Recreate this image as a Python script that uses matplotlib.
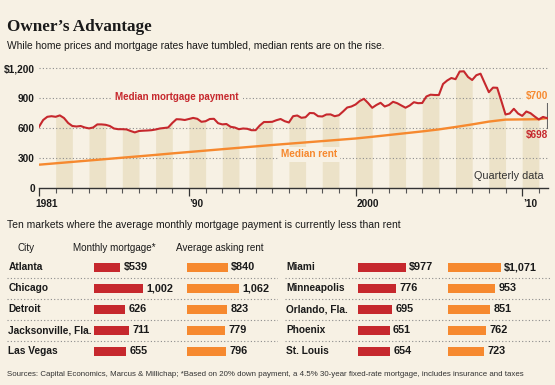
import numpy as np
import matplotlib
matplotlib.use("Agg")
import matplotlib.pyplot as plt

# quarterly median mortgage payment, 1981 Q1 - 2011 Q3
quarters = np.arange(1981, 2011.51, 0.25)
mortgage = [612, 680, 712, 718, 712, 726, 700, 650, 620, 615, 620, 605,
            596, 605, 636, 636, 632, 620, 595, 588, 588, 586, 570, 556,
            570, 573, 575, 578, 585, 595, 600, 605, 650, 688, 686, 680,
            690, 701, 692, 662, 668, 690, 692, 648, 636, 640, 612, 605,
            588, 595, 592, 578, 578, 625, 660, 660, 662, 678, 690, 668,
            655, 718, 725, 702, 708, 750, 748, 718, 715, 735, 736, 718,
            728, 765, 805, 815, 835, 870, 892, 850, 802, 830, 852, 815,
            830, 862, 848, 825, 803, 825, 858, 848, 850, 915, 933, 930,
            930, 1040, 1075, 1100, 1088, 1165, 1167, 1110, 1080, 1128, 1143, 1050,
            958, 1004, 1002, 870, 735, 745, 792, 745, 721, 765, 748, 715,
            685, 711, 698]

rent_years = [1981, 1982, 1983, 1984, 1985, 1986, 1987, 1988, 1989, 1990,
              1991, 1992, 1993, 1994, 1995, 1996, 1997, 1998, 1999, 2000,
              2001, 2002, 2003, 2004, 2005, 2006, 2007, 2008, 2009, 2010,
              2011, 2011.5]
rent = [233, 247, 261, 275, 289, 303, 317, 331, 346, 360,
        374, 388, 402, 416, 430, 443, 456, 469, 482, 495,
        512, 530, 548, 566, 586, 610, 636, 664, 684, 686,
        688, 700]

year_ticks = [1981, 1990, 2000, 2010]
year_labels = ["1981", "\u201990", "2000", "\u201910"]
y_ticks = [0, 300, 600, 900, 1200]
y_labels = ["0", "300", "600", "900", "$1,200"]

cities_left = ["Atlanta", "Chicago", "Detroit", "Jacksonville, Fla.", "Las Vegas"]
mortgage_left = [539, 1002, 626, 711, 655]
rent_left = [840, 1062, 823, 779, 796]
cities_right = ["Miami", "Minneapolis", "Orlando, Fla.", "Phoenix", "St. Louis"]
mortgage_right = [977, 776, 695, 651, 654]
rent_right = [1071, 953, 851, 762, 723]

BG = "#f7f1e4"
SHADE = "#ece2c8"
RED = "#c6282d"
ORANGE = "#f6892f"
INK = "#1a1a1a"
SANS = ["Liberation Sans", "DejaVu Sans"]
SERIF = ["Liberation Serif", "DejaVu Serif"]

W, H = 555, 385


def box(x0, y0, x1, y1):
    # pixel box (top-left origin) -> figure fraction rect
    return [x0 / W, 1 - y1 / H, (x1 - x0) / W, (y1 - y0) / H]


fig = plt.figure(figsize=(W / 100, H / 100), dpi=100, facecolor=BG)

fig.text(7 / W, 1 - 31 / H, "Owner\u2019s Advantage", family=SERIF,
         fontweight="bold", fontsize=12.3, color=INK, va="baseline")
fig.text(7 / W, 1 - 46 / H,
         "While home prices and mortgage rates have tumbled, median rents are on the rise.",
         family=SANS, fontsize=7.4, color=INK, va="center")

# ---- line chart ----
ax = fig.add_axes(box(39, 63, 548, 188))
ax.set_facecolor("none")
ax.set_xlim(1981, 2011.55)
ax.set_ylim(0, 1250)

mort = np.array(mortgage)
for yr in range(1982, 2011, 2):
    m = (quarters >= yr) & (quarters <= yr + 1)
    ax.fill_between(quarters[m], 0, mort[m], color=SHADE, lw=0, zorder=1)

for v in y_ticks[1:]:
    ax.axhline(v, color="#8c8c8c", lw=0.8, ls=(0, (1, 2)), zorder=2)

ax.plot(rent_years, rent, color=ORANGE, lw=1.7, zorder=3, solid_capstyle="butt")
ax.plot(quarters, mortgage, color=RED, lw=1.5, zorder=4)

for s in ["top", "right", "left"]:
    ax.spines[s].set_visible(False)
ax.spines["bottom"].set_color("#333333")
ax.spines["bottom"].set_linewidth(1)

ax.set_xticks(year_ticks)
ax.set_xticklabels([])
ax.set_xticks(range(1981, 2012), minor=True)
ax.tick_params(axis="x", which="major", length=6, width=0.9, color="#333333")
ax.tick_params(axis="x", which="minor", length=3.6, width=0.8, color="#555555")
ax.set_yticks(y_ticks)
ax.set_yticklabels(y_labels)
ax.tick_params(axis="y", length=0, pad=3)
for lab in ax.get_yticklabels():
    lab.set_family(SANS)
    lab.set_fontweight("bold")
    lab.set_fontsize(7.3)
    lab.set_color(INK)

# year labels sit just right of their tick
for yr, lab in zip(year_ticks, year_labels):
    dx = -2.9 if yr == year_ticks[0] else 0.5
    ax.annotate(lab, (yr, 0), xytext=(dx, -11.5), textcoords="offset points",
                family=SANS, fontweight="bold", fontsize=7.3, color=INK,
                ha="left", va="center", annotation_clip=False)

ax.text(1989.28, 910, "Median mortgage payment", color=RED, family=SANS,
        fontweight="bold", fontsize=7.0, ha="center", va="center", zorder=5,
        bbox=dict(fc=BG, ec="none", pad=3))
ax.text(1997.2, 335, "Median rent", color=ORANGE, family=SANS,
        fontweight="bold", fontsize=7.2, ha="center", va="center", zorder=5,
        bbox=dict(fc=BG, ec="none", pad=2))
ax.text(2011.55, 925, "$700", color=ORANGE, family=SANS, fontweight="bold",
        fontsize=7.2, ha="right", va="center", zorder=5,
        bbox=dict(fc=BG, ec="none", pad=2))
ax.text(2011.55, 530, "$698", color=RED, family=SANS, fontweight="bold",
        fontsize=7.2, ha="right", va="center", zorder=5)
ax.plot([rent_years[-1], rent_years[-1]], [597, 863], color="#666666", lw=0.8, zorder=2)
ax.text(2011.3, 123, "Quarterly data", color="#333333", family=SANS,
        fontsize=7.8, ha="right", va="center", zorder=5)

# ---- table of ten markets ----
fig.text(7 / W, 1 - 225 / H,
         "Ten markets where the average monthly mortgage payment is currently less than rent",
         family=SANS, fontsize=7.5, color=INK, va="center")
for x, t in [(17, "City"), (73, "Monthly mortgage*"), (176, "Average asking rent")]:
    fig.text(x / W, 1 - 248 / H, t, family=SANS, fontsize=7.1, color=INK, va="center")

PX_PER_DOLLAR = 0.049
ROW_TOP, ROW_BOT = 256.8, 361.8


def half(x0, x1, cities):
    a = fig.add_axes(box(x0, ROW_TOP, x1, ROW_BOT))
    a.set_xlim(0, 1)
    a.set_ylim(len(cities) - 0.5, -0.5)
    a.axis("off")
    for i, c in enumerate(cities):
        a.text(1.5 / (x1 - x0), i, c, family=SANS, fontweight="bold",
               fontsize=7.3, color=INK, va="center")
    for i in range(len(cities) - 1):
        a.axhline(i + 0.5, color="#8c8c8c", lw=0.8, ls=(0, (1, 2)))


def bars(x0, values, color):
    width_px = 80
    a = fig.add_axes(box(x0, ROW_TOP, x0 + width_px, ROW_BOT))
    a.set_xlim(0, width_px / PX_PER_DOLLAR)
    a.set_ylim(len(values) - 0.5, -0.5)
    a.axis("off")
    a.barh(range(len(values)), values, height=0.44, color=color)
    for i, v in enumerate(values):
        lab = f"${v:,}" if i == 0 else f"{v:,}"
        a.annotate(lab, (v, i), xytext=(2.5, 0), textcoords="offset points",
                   family=SANS, fontweight="bold", fontsize=7.8, color=INK,
                   va="center", annotation_clip=False)


half(7, 278, cities_left)
half(285, 552, cities_right)
bars(94, mortgage_left, RED)
bars(186.7, rent_left, ORANGE)
bars(357.7, mortgage_right, RED)
bars(448.3, rent_right, ORANGE)

fig.text(7 / W, 1 - 374 / H,
         "Sources: Capital Economics, Marcus & Millichap; *Based on 20% down payment, "
         "a 4.5% 30-year fixed-rate mortgage, includes insurance and taxes",
         family=SANS, fontsize=5.7, color="#333333", va="center")

fig.savefig("out.png", dpi=100, facecolor=BG)
